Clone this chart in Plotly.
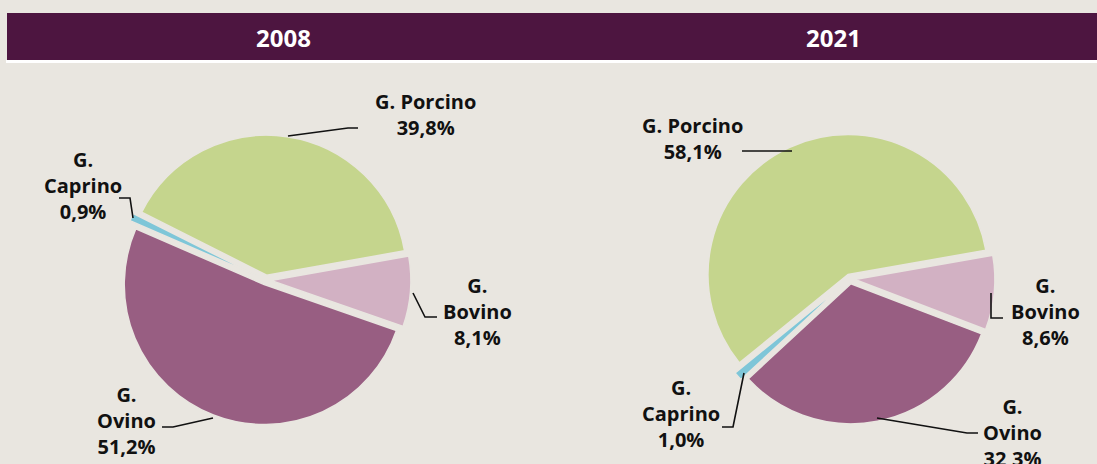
import plotly.graph_objects as go

W, H = 1097, 464

# Data
categories = ["G. Bovino", "G. Ovino", "G. Caprino", "G. Porcino"]
years = ["2008", "2021"]
share_2008 = [8.1, 51.2, 0.9, 39.8]
share_2021 = [8.6, 32.3, 1.0, 58.1]
shares = [share_2008, share_2021]

# Styling
colors = ["#d2b1c3", "#985e82", "#7ec6d8", "#c5d58d"]
pulls = [0.035, 0.035, 0.06, 0.035]
BG = "#e9e6e0"
HEADER = "#4d1540"
FONT = "Open Sans"
RADIUS = 140
pie_centers = [(266, 280), (850, 279)]
title_x = [283, 833]

# Label layout per pie: block centre (px), wrapped?, leader polyline (px)
label_layout = [
    {
        "G. Porcino": ((425, 114), False, [(288, 136), (348, 128), (358, 128)]),
        "G. Caprino": ((83, 185), True, [(119, 198), (130, 198), (133, 218)]),
        "G. Bovino": ((477, 311), True, [(413, 293), (425, 317), (437, 317)]),
        "G. Ovino": ((127, 420), True, [(213, 418), (173, 427), (162, 427)]),
    },
    {
        "G. Porcino": ((692, 138), False, [(742, 151), (792, 151)]),
        "G. Caprino": ((681, 413), True, [(744, 373), (733, 427), (722, 427)]),
        "G. Bovino": ((1045, 311), True, [(991, 293), (991, 318), (1003, 318)]),
        "G. Ovino": ((1012, 432), True, [(877, 418), (967, 433), (978, 433)]),
    },
]


def px(x):
    return x / W


def py(y):
    return 1 - y / H


fig = go.Figure()

half = RADIUS * (1 + max(pulls))
for vals, (cx, cy) in zip(shares, pie_centers):
    fig.add_trace(go.Pie(
        labels=categories,
        values=vals,
        sort=False,
        direction="clockwise",
        rotation=80,
        pull=pulls,
        marker=dict(colors=colors, line=dict(color=BG, width=1.5)),
        textinfo="none",
        hoverinfo="label+percent",
        showlegend=False,
        domain=dict(x=[px(cx - half), px(cx + half)],
                    y=[py(cy + half), py(cy - half)]),
    ))

shapes = [
    dict(type="rect", xref="paper", yref="paper",
         x0=px(7), x1=1, y0=py(60), y1=py(13),
         fillcolor=HEADER, line=dict(width=0), layer="below"),
    dict(type="rect", xref="paper", yref="paper",
         x0=px(6), x1=1, y0=py(63), y1=py(60),
         fillcolor="white", line=dict(width=0), layer="below"),
]

annotations = []
for yr, tx in zip(years, title_x):
    annotations.append(dict(
        x=px(tx), y=py(37), xref="paper", yref="paper",
        text=yr, showarrow=False, xanchor="center", yanchor="middle",
        font=dict(family=FONT, size=24, color="white", weight="bold"),
    ))

for vals, layout in zip(shares, label_layout):
    for cat, v in zip(categories, vals):
        (bx, by), wrap, leader = layout[cat]
        pct = f"{v:.1f}".replace(".", ",") + "%"
        if wrap:
            first, rest = cat.split(" ", 1)
            lines = [first, rest, pct]
        else:
            lines = [cat, pct]
        annotations.append(dict(
            x=px(bx), y=py(by), xref="paper", yref="paper",
            text="<br>".join(lines), showarrow=False,
            xanchor="center", yanchor="middle", align="center",
            font=dict(family=FONT, size=20, color="#111111", weight="bold"),
        ))
        path = "M " + " L ".join(f"{px(x):.5f},{py(y):.5f}" for x, y in leader)
        shapes.append(dict(type="path", xref="paper", yref="paper", path=path,
                           line=dict(color="#111111", width=1.6)))

fig.update_layout(
    width=W, height=H,
    margin=dict(l=0, r=0, t=0, b=0),
    paper_bgcolor=BG,
    plot_bgcolor=BG,
    shapes=shapes,
    annotations=annotations,
)

fig.write_html("out.html")
